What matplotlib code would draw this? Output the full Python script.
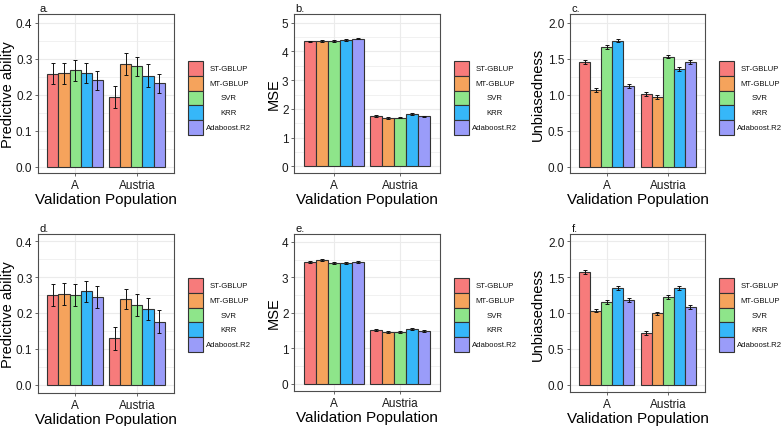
import numpy as np
import matplotlib
matplotlib.use("Agg")
import matplotlib.pyplot as plt
from matplotlib.patches import Rectangle
from matplotlib.transforms import Affine2D
from matplotlib.ticker import MultipleLocator

plt.rcParams['font.family'] = ['Liberation Sans', 'DejaVu Sans']

# ---------------- data ----------------
populations = ["A", "Austria"]
models = ["ST-GBLUP", "MT-GBLUP", "SVR", "KRR", "Adaboost.R2"]
colors = ["#F77B7B", "#F5A35C", "#8EE58A", "#36B7F9", "#9A9CF9"]

# rows: model, cols: population (A, Austria)
pa_a = [[0.258, 0.193], [0.259, 0.285], [0.267, 0.279], [0.261, 0.252], [0.240, 0.231]]
pa_a_err = [[0.029, 0.030], [0.029, 0.030], [0.029, 0.026], [0.028, 0.032], [0.026, 0.026]]
mse_b = [[4.35, 1.75], [4.36, 1.69], [4.36, 1.70], [4.40, 1.82], [4.44, 1.74]]
mse_b_err = [[0.025, 0.02], [0.02, 0.025], [0.02, 0.02], [0.03, 0.03], [0.02, 0.02]]
unb_c = [[1.45, 1.005], [1.06, 0.963], [1.657, 1.528], [1.75, 1.352], [1.12, 1.449]]
unb_c_err = [[0.025, 0.025], [0.025, 0.028], [0.03, 0.025], [0.025, 0.03], [0.025, 0.025]]
pa_d = [[0.250, 0.129], [0.253, 0.239], [0.250, 0.222], [0.260, 0.211], [0.245, 0.176]]
pa_d_err = [[0.030, 0.032], [0.031, 0.029], [0.030, 0.030], [0.030, 0.032], [0.031, 0.031]]
mse_e = [[3.42, 1.52], [3.49, 1.46], [3.41, 1.46], [3.40, 1.55], [3.42, 1.50]]
mse_e_err = [[0.03, 0.03], [0.03, 0.025], [0.025, 0.025], [0.03, 0.03], [0.03, 0.025]]
unb_f = [[1.567, 0.721], [1.033, 0.995], [1.153, 1.223], [1.344, 1.349], [1.177, 1.084]]
unb_f_err = [[0.025, 0.03], [0.025, 0.025], [0.025, 0.025], [0.025, 0.03], [0.025, 0.03]]

panels = [
    dict(tag="a.", vals=pa_a, err=pa_a_err, ylabel="Predictive ability",
         ticks=[0.0, 0.1, 0.2, 0.3, 0.4], fmt="{:.1f}", ylim=(-0.018, 0.424), minor=0.05,
         rect=(38, 174, 15, 174), leg=(188, 62), ylx=8.5),
    dict(tag="b.", vals=mse_b, err=mse_b_err, ylabel="MSE",
         ticks=[0, 1, 2, 3, 4, 5], fmt="{:d}", ylim=(-0.23, 5.3), minor=0.5,
         rect=(294, 440, 15, 174), leg=(454, 62), ylx=274),
    dict(tag="c.", vals=unb_c, err=unb_c_err, ylabel="Unbiasedness",
         ticks=[0.0, 0.5, 1.0, 1.5, 2.0], fmt="{:.1f}", ylim=(-0.09, 2.12), minor=0.25,
         rect=(570, 705, 15, 174), leg=(719, 62), ylx=538),
    dict(tag="d.", vals=pa_d, err=pa_d_err, ylabel="Predictive ability",
         ticks=[0.0, 0.1, 0.2, 0.3, 0.4], fmt="{:.1f}", ylim=(-0.023, 0.42), minor=0.05,
         rect=(38, 174, 235, 394), leg=(188, 279), ylx=8.5),
    dict(tag="e.", vals=mse_e, err=mse_e_err, ylabel="MSE",
         ticks=[0, 1, 2, 3, 4], fmt="{:d}", ylim=(-0.2, 4.22), minor=0.5,
         rect=(294, 440, 235, 392), leg=(454, 279), ylx=274),
    dict(tag="f.", vals=unb_f, err=unb_f_err, ylabel="Unbiasedness",
         ticks=[0.0, 0.5, 1.0, 1.5, 2.0], fmt="{:.1f}", ylim=(-0.1, 2.1), minor=0.25,
         rect=(570, 705, 235, 393), leg=(719, 279), ylx=538),
]

W, H = 784, 427
fig = plt.figure(figsize=(W / 100, H / 100), dpi=100)
pix = Affine2D().scale(1 / W, -1 / H).translate(0, 1) + fig.transFigure

grid_c = "#EBEBEB"
border_c = "#4D4D4D"
edge_c = "#333333"
tick_c = "#1A1A1A"

n = len(models)
width = 0.9 / n
xpos = np.arange(len(populations))

for p in panels:
    x0, x1, y0, y1 = p["rect"]
    ax = fig.add_axes([x0 / W, 1 - y1 / H, (x1 - x0) / W, (y1 - y0) / H])
    ax.set_axisbelow(True)
    for i in range(n):
        off = (i - (n - 1) / 2) * width
        vals = p["vals"][i]
        errs = p["err"][i]
        ax.bar(xpos + off, vals, width=width, color=colors[i], edgecolor=edge_c,
               linewidth=0.8, zorder=2)
        ax.errorbar(xpos + off, vals, yerr=errs, fmt="none", ecolor="#111111",
                    elinewidth=0.7, capsize=1.3, capthick=0.7, zorder=3)
    ax.set_xlim(-0.6, 1.6)
    ax.set_ylim(*p["ylim"])
    ax.set_xticks(xpos)
    ax.set_xticklabels(populations)
    ax.set_yticks(p["ticks"])
    ax.set_yticklabels([p["fmt"].format(t) for t in p["ticks"]])
    ax.yaxis.set_minor_locator(MultipleLocator(p["minor"]))
    ax.grid(True, which="major", color=grid_c, linewidth=0.8)
    ax.grid(True, which="minor", axis="y", color=grid_c, linewidth=0.5)
    ax.tick_params(axis="both", which="major", length=2.5, width=0.6, color=border_c,
                   labelsize=8.5, labelcolor=tick_c, pad=1.5)
    ax.tick_params(axis="y", which="minor", length=0)
    for s in ax.spines.values():
        s.set_color(border_c)
        s.set_linewidth(0.8)
    ax.set_xlabel("Validation Population", fontsize=11, labelpad=1)
    ax.set_ylabel(p["ylabel"], fontsize=10.5, va="center")
    ax.yaxis.set_label_coords((p["ylx"] - x0) / (x1 - x0), 0.5)
    # panel tag
    fig.text(x0 / W + 0.002, 1 - (y0 - 6) / H, p["tag"], fontsize=8, ha="left",
             va="center", color="#111111")
    # legend
    lx, ly = p["leg"]
    kh = 14.8
    for i, m in enumerate(models):
        fig.add_artist(Rectangle((lx, ly + i * kh), 15, kh, transform=pix,
                                 facecolor=colors[i], edgecolor=edge_c, linewidth=0.8))
        fig.text((lx + 41) / W, 1 - (ly + i * kh + kh / 2) / H, m, fontsize=5.6,
                 ha="center", va="center", color="#111111")

fig.savefig("out.png", dpi=100)
